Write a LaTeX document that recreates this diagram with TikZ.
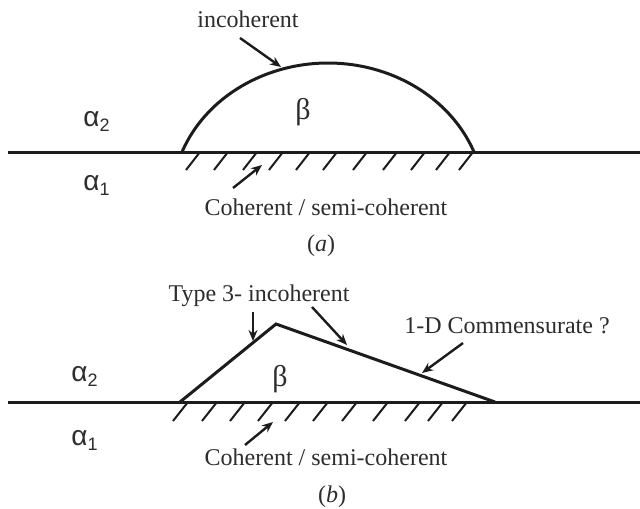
\documentclass[tikz,border=0pt]{standalone}
\usepackage{fontspec}
\setmainfont{Liberation Serif}
\newfontfamily\alfont{Liberation Sans}
\usetikzlibrary{arrows.meta}
\definecolor{ink}{RGB}{28,28,28}
\definecolor{txt}{RGB}{45,45,45}
\tikzset{
  baseln/.style={line width=1.5pt, draw=ink},
  shapeln/.style={line width=1.5pt, draw=ink, line join=miter},
  hatchln/.style={line width=1pt, draw=ink},
  pointer/.style={line width=1.2pt, draw=ink, -{Stealth[length=5.5pt,width=4.5pt]}},
  lbl/.style={inner sep=0pt, text=txt, font=\fontsize{12}{14}\selectfont},
  alab/.style={inner sep=0pt, text=txt, anchor=base west, font=\alfont\fontsize{14}{16}\selectfont},
  blab/.style={inner sep=0pt, text=txt, font=\fontsize{15}{17}\selectfont},
}
\newcommand{\subdig}[1]{\raisebox{-0.4ex}{\fontsize{9}{10}\selectfont #1}}
\begin{document}
\begin{tikzpicture}[x=0.5pt,y=-0.5pt]
\useasboundingbox (0,0) rectangle (640,508);
\fill[white] (0,0) rectangle (640,508);

% ---------------- panel (a) ----------------
\coordinate (aL) at (8,152);
\coordinate (aR) at (640,152);
\coordinate (arcS) at (182,152);
\draw[baseln] (aL) -- (aR);
\draw[shapeln] (arcS) arc[start angle=-158.9, end angle=-21.1, x radius=156.5, y radius=139];
\foreach \x in {200,228,257,283,310,337,367,397,425,450,473}
  \draw[hatchln] (\x,152) -- ++(-14,18);

\node[alab] (a2top) at (83,126) {α\subdig{2}};
\node[alab] (a1top) at (83,190) {α\subdig{1}};
\node[blab] (btop) at (303,112) {β};
\node[lbl, anchor=base] (incA) at (248,28) {incoherent};
\node[lbl, anchor=base] (cohA) at (326,215) {Coherent / semi-coherent};
\node[lbl] (capA) at (321,246) {(\textit{a})};

\coordinate (incAt) at (240,38);
\coordinate (incAh) at (281,67);
\draw[pointer] (incAt) -- (incAh);
\coordinate (cohAt) at (233,188);
\coordinate (cohAh) at (262,165);
\draw[pointer] (cohAt) -- (cohAh);

% ---------------- panel (b) ----------------
\coordinate (bL) at (8,402);
\coordinate (bR) at (640,402);
\draw[baseln] (bL) -- (bR);
\coordinate (tL) at (180,402);
\coordinate (tA) at (276,324);
\coordinate (tR) at (495,402);
\draw[shapeln] (tL) -- (tA) -- (tR);
\foreach \x in {188,217,245,273,300,328,357,388,420,443,467}
  \draw[hatchln] (\x,402) -- ++(-15,19);

\node[alab] (a2bot) at (71,381) {α\subdig{2}};
\node[alab] (a1bot) at (71,445) {α\subdig{1}};
\node[blab] (bbot) at (280,379) {β};
\node[lbl, anchor=base] (type3) at (259,301) {Type 3- incoherent};
\node[lbl, anchor=base] (oneD) at (507,333) {1-D Commensurate ?};
\node[lbl, anchor=base] (cohB) at (326,465) {Coherent / semi-coherent};
\node[lbl] (capB) at (332,497) {(\textit{b})};

\coordinate (t3at) at (253,312);
\coordinate (t3ah) at (253,341);
\draw[pointer] (t3at) -- (t3ah);
\coordinate (t3bt) at (312,307);
\coordinate (t3bh) at (347,345);
\draw[pointer] (t3bt) -- (t3bh);
\coordinate (oneDt) at (463,343);
\coordinate (oneDh) at (422,373);
\draw[pointer] (oneDt) -- (oneDh);
\coordinate (cohBt) at (245,445);
\coordinate (cohBh) at (273,422);
\draw[pointer] (cohBt) -- (cohBh);
\end{tikzpicture}
\end{document}
